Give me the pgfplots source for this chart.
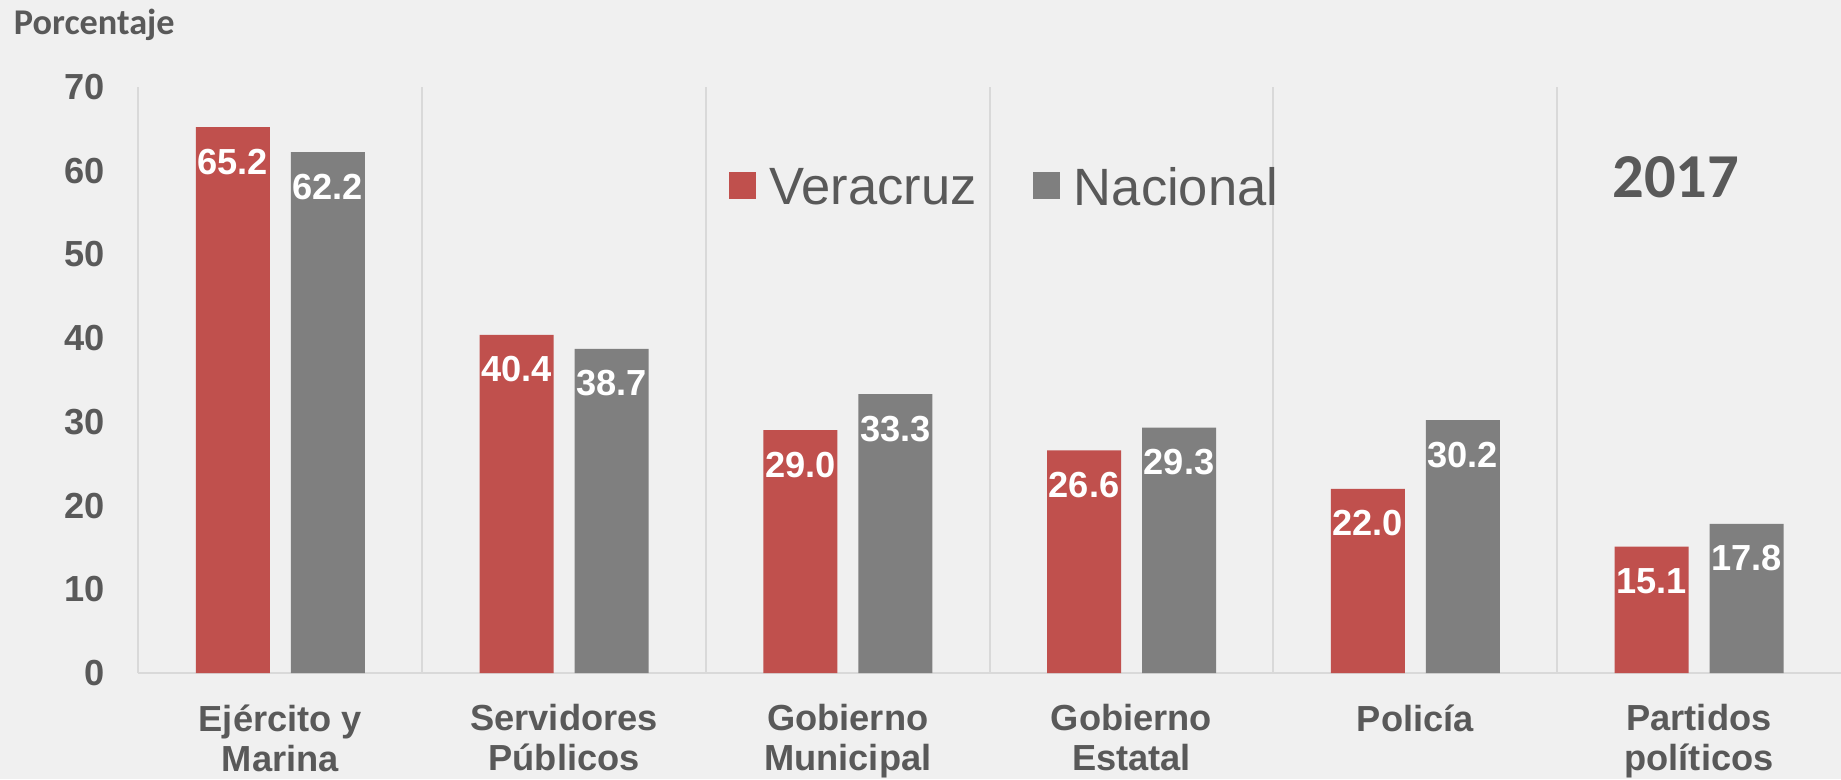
\documentclass[border=0pt]{standalone}
\usepackage{pgfplots}
\pgfplotsset{compat=1.18}
\usepackage{fontspec}
\setmainfont{Liberation Sans}
\newfontfamily\calib{Carlito}
\definecolor{vred}{HTML}{C0504D}
\definecolor{ngray}{HTML}{7F7F7F}
\definecolor{txt}{HTML}{595959}
\definecolor{gridc}{HTML}{D9D9D9}
\definecolor{bg}{HTML}{F0F0F0}
\begin{document}
\begin{tikzpicture}
\fill[bg] (-55.4pt,-42.4pt) rectangle ++(736.4pt,311.6pt);
\begin{axis}[
  at={(0pt,0pt)}, anchor=south west,
  x=113.49pt, y=3.349pt,
  xmin=-0.5, xmax=5.5, ymin=0, ymax=70,
  clip=false,
  axis lines*=left,
  axis line style={draw=gridc, line width=0.8pt, -},
  major tick length=0pt, minor tick length=0pt,
  xtick={0,1,2,3,4,5},
  xticklabels={{Ejército y\\Marina},{Servidores\\Públicos},{Gobierno\\Municipal},{Gobierno\\Estatal},{Policía},{Partidos\\políticos}},
  minor xtick={0.5,1.5,2.5,3.5,4.5},
  xminorgrids,
  minor grid style={draw=gridc, line width=0.8pt},
  ytick={0,10,...,70},
  /pgf/number format/assume math mode=true,
  yticklabel style={anchor=east, inner sep=0pt, xshift=-13.4pt, text=txt, font=\bfseries\fontsize{14.5}{17}\selectfont},
  xticklabel style={anchor=north, inner sep=0pt, yshift=-12.4pt, align=center, text=txt, font=\bfseries\fontsize{14.5}{16}\selectfont},
  nodes near coords={\pgfmathprintnumber[fixed,fixed zerofill,precision=1,assume math mode=true]{\pgfplotspointmeta}},
  every node near coord/.append style={font=\bfseries\fontsize{14.5}{16}\selectfont, text=white, anchor=center, yshift=-13.8pt},
  legend columns=2,
  legend style={at={(rel axis cs:0.3463,0.8266)}, anchor=west, draw=none, fill=none, inner sep=0pt,
    nodes={inner sep=0pt}, font=\fontsize{21}{24}\selectfont, text=txt,
    /tikz/every odd column/.append style={column sep=5.6pt},
    /tikz/every even column/.append style={column sep=22.5pt}},
]
\addplot[ybar, fill=vred, draw=none, bar width=29.6pt, bar shift=-19pt,
  every node near coord/.append style={xshift=-19pt},
  legend image code/.code={\fill[vred] (0pt,-4.1pt) rectangle (10.8pt,6.7pt);}]
  coordinates {(0,65.2) (1,40.4) (2,29.0) (3,26.6) (4,22.0) (5,15.1)};
\addlegendentry{Veracruz}
\addplot[ybar, fill=ngray, draw=none, bar width=29.6pt, bar shift=19pt,
  every node near coord/.append style={xshift=19pt},
  legend image code/.code={\fill[ngray] (0pt,-4.1pt) rectangle (10.8pt,6.7pt);}]
  coordinates {(0,62.2) (1,38.7) (2,33.3) (3,29.3) (4,30.2) (5,17.8)};
\addlegendentry{Nacional}
\node[font=\calib\bfseries\fontsize{25}{30}\selectfont, text=txt] at (rel axis cs:0.903,0.846) {2017};
\node[anchor=base west, inner sep=0pt, xshift=-50pt, yshift=20.8pt, font=\calib\bfseries\fontsize{14.5}{16}\selectfont, text=txt] at (rel axis cs:0,1) {Porcentaje};
\end{axis}
\pgfresetboundingbox
\useasboundingbox (-55.4pt,-42.4pt) rectangle ++(736.4pt,311.6pt);
\end{tikzpicture}
\end{document}
